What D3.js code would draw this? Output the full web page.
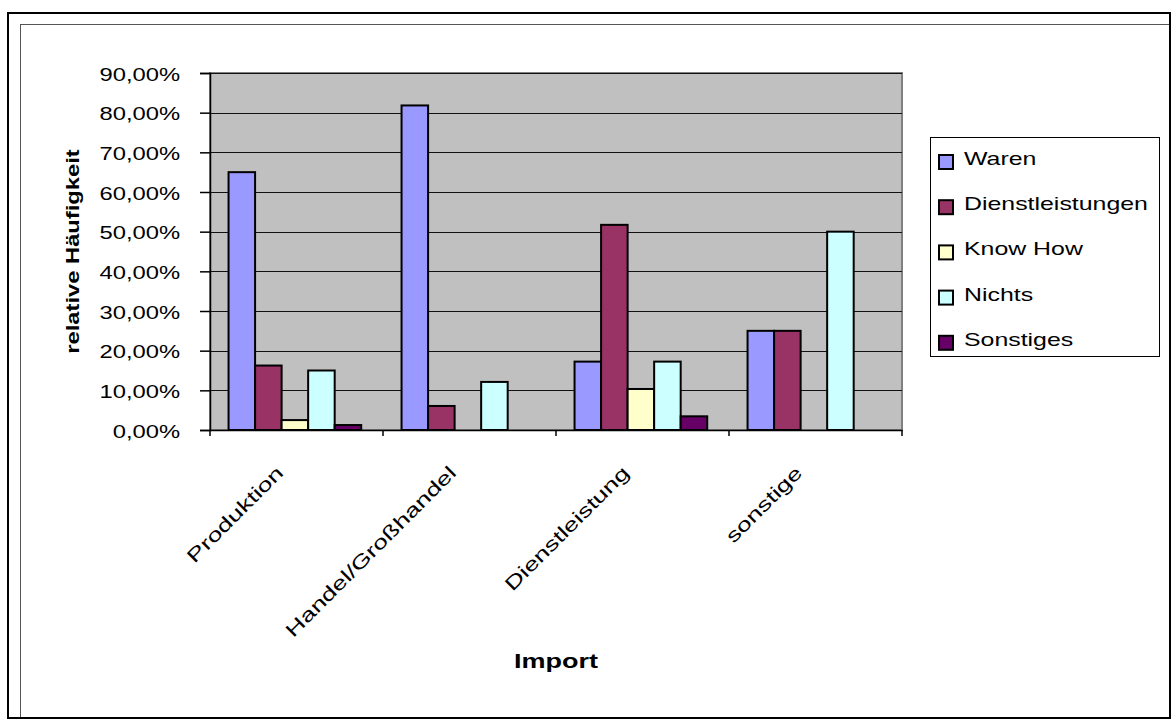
<!DOCTYPE html>
<html>
<head>
<meta charset="utf-8">
<script src="https://cdn.jsdelivr.net/npm/d3@7"></script>
<style>
  html, body { margin: 0; padding: 0; background: #ffffff; }
  svg { display: block; }
  text { font-family: "Liberation Sans", Arial, sans-serif; fill: #000; }
</style>
</head>
<body>
<svg id="chart" width="1176" height="724"></svg>
<script>
// ---- data ----
const categories = ["Produktion", "Handel/Großhandel", "Dienstleistung", "sonstige"];
const seriesNames = ["Waren", "Dienstleistungen", "Know How", "Nichts", "Sonstiges"];
const waren = [65.0, 81.82, 17.24, 25.0];
const dienstleistungen = [16.25, 6.06, 51.72, 25.0];
const knowHow = [2.5, 0, 10.34, 0];
const nichts = [15.0, 12.12, 17.24, 50.0];
const sonstiges = [1.25, 0, 3.45, 0];
const yTicks = [0, 10, 20, 30, 40, 50, 60, 70, 80, 90];
const colors = ["#9999ff", "#993366", "#ffffcc", "#ccffff", "#660066"];
const yTitle = "relative Häufigkeit";
const xTitle = "Import";

const seriesValues = [waren, dienstleistungen, knowHow, nichts, sonstiges];

// ---- layout ----
const svg = d3.select("#chart");
const plot = { left: 210, right: 902, top: 73, bottom: 430 };

// frames
svg.append("rect").attr("x", 8).attr("y", 13).attr("width", 1162).attr("height", 705)
  .attr("fill", "none").attr("stroke", "#000").attr("stroke-width", 2);
svg.append("line").attr("x1", 20.5).attr("x2", 20.5).attr("y1", 24).attr("y2", 717)
  .attr("stroke", "#555").attr("stroke-width", 1);
svg.append("line").attr("x1", 20).attr("x2", 1169).attr("y1", 24.5).attr("y2", 24.5)
  .attr("stroke", "#555").attr("stroke-width", 1);

const y = d3.scaleLinear().domain([0, 90]).range([plot.bottom, plot.top]);
const x0 = d3.scaleBand().domain(categories).range([plot.left, plot.right]).padding(0);
const x1 = d3.scaleBand().domain(seriesNames).range([0, x0.bandwidth()])
  .paddingInner(0).paddingOuter(0.76).align(0.46);

// plot area
svg.append("rect").attr("x", plot.left).attr("y", plot.top)
  .attr("width", plot.right - plot.left).attr("height", plot.bottom - plot.top)
  .attr("fill", "#c0c0c0").attr("stroke", "#808080").attr("stroke-width", 2);

// gridlines
svg.append("g").selectAll("line").data(yTicks.filter(d => d > 0)).join("line")
  .attr("x1", plot.left).attr("x2", plot.right)
  .attr("y1", d => Math.round(y(d)) + 0.5).attr("y2", d => Math.round(y(d)) + 0.5)
  .attr("stroke", "#111").attr("stroke-width", 1.2);

// bars
const barData = [];
categories.forEach((c, ci) => {
  seriesNames.forEach((s, si) => {
    const v = seriesValues[si][ci];
    if (v > 0) barData.push({ c, s, v, color: colors[si] });
  });
});
svg.append("g").selectAll("rect").data(barData).join("rect")
  .attr("x", d => x0(d.c) + x1(d.s))
  .attr("y", d => y(d.v))
  .attr("width", x1.bandwidth())
  .attr("height", d => y(0) - y(d.v))
  .attr("fill", d => d.color)
  .attr("stroke", "#000").attr("stroke-width", 2);

// y axis
const yAxis = d3.axisLeft(y).tickValues(yTicks).tickSize(10).tickPadding(0)
  .tickFormat(d => d3.format(".2f")(d).replace(".", ",") + "%");
const gy = svg.append("g").attr("transform", `translate(${plot.left},0)`).call(yAxis);
gy.select(".domain").attr("stroke", "#000").attr("stroke-width", 1.5);
gy.selectAll(".tick line").attr("stroke", "#000").attr("stroke-width", 1.5);
gy.selectAll(".tick text").each(function () {
  const t = d3.select(this);
  t.attr("x", null).attr("dy", null)
    .attr("text-anchor", "end")
    .attr("font-size", 19)
    .attr("transform", "translate(-30,7) scale(1.25,1)");
});

// x axis
const xAxis = d3.axisBottom(x0).tickSize(0).tickFormat(() => "");
const gx = svg.append("g").attr("transform", `translate(0,${plot.bottom})`).call(xAxis);
gx.select(".domain").attr("stroke", "#000").attr("stroke-width", 1.5);
// boundary ticks
const bounds = categories.map(c => x0(c)).concat([x0(categories[categories.length - 1]) + x0.bandwidth()]);
svg.append("g").selectAll("line").data(bounds).join("line")
  .attr("x1", d => d).attr("x2", d => d)
  .attr("y1", plot.bottom).attr("y2", plot.bottom + 6)
  .attr("stroke", "#000").attr("stroke-width", 1.5);

// category labels
svg.append("g").selectAll("text").data(categories).join("text")
  .attr("text-anchor", "end")
  .attr("font-size", 19)
  .attr("transform", d => `translate(${x0(d) + x0.bandwidth() / 2 - 12},${plot.bottom + 44}) rotate(-45) scale(1.4,1)`)
  .text(d => d);

// axis titles
svg.append("text")
  .attr("text-anchor", "middle").attr("font-size", 20).attr("font-weight", "bold")
  .attr("transform", `translate(${(plot.left + plot.right) / 2},668) scale(1.35,1)`)
  .text(xTitle);
svg.append("text")
  .attr("text-anchor", "middle").attr("font-size", 19).attr("font-weight", "bold")
  .attr("transform", `translate(79,${(plot.top + plot.bottom) / 2}) rotate(-90) scale(1.25,1)`)
  .text(yTitle);

// legend
const legend = svg.append("g");
legend.append("rect").attr("x", 930.5).attr("y", 137.5).attr("width", 229).attr("height", 219)
  .attr("fill", "#fff").attr("stroke", "#000").attr("stroke-width", 1);
const rowY = i => 165 + i * 45.2;
const items = legend.selectAll("g.item").data(seriesNames).join("g").attr("class", "item");
items.append("rect")
  .attr("x", 939).attr("y", (d, i) => rowY(i) - 10)
  .attr("width", 14).attr("height", 14)
  .attr("fill", (d, i) => colors[i]).attr("stroke", "#000").attr("stroke-width", 2);
items.append("text")
  .attr("font-size", 19)
  .attr("transform", (d, i) => `translate(964,${rowY(i)}) scale(1.31,1)`)
  .text(d => d);
</script>
</body>
</html>
